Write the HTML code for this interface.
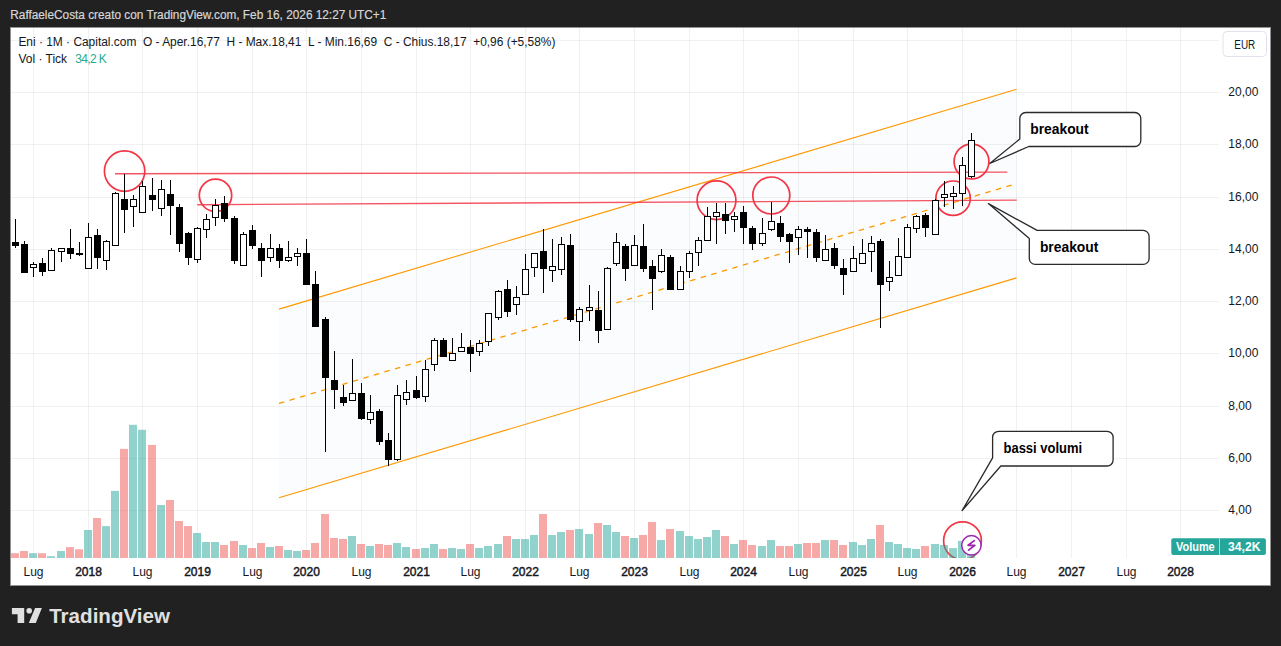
<!DOCTYPE html><html><head><meta charset="utf-8"><style>html,body{margin:0;padding:0;background:#212121;width:1281px;height:646px;overflow:hidden}svg{position:absolute;left:0;top:0;display:block}text{font-family:"Liberation Sans",sans-serif}</style></head><body>
<svg width="1281" height="646" viewBox="0 0 1281 646">
<rect x="0" y="0" width="1281" height="646" fill="#212121"/>
<text x="10.3" y="18.7" font-size="12" fill="#d6d6d6" stroke="#d6d6d6" stroke-width="0.2" textLength="376" lengthAdjust="spacingAndGlyphs">RaffaeleCosta creato con TradingView.com, Feb 16, 2026 12:27 UTC+1</text>
<rect x="10" y="27" width="1261" height="559" fill="#ffffff"/>
<rect x="10.5" y="27.5" width="1260" height="558" fill="none" stroke="#939393" stroke-width="1"/>
<defs><clipPath id="pane"><rect x="10" y="27" width="1209" height="531"/></clipPath></defs>
<polygon points="279,309.1 1016.5,89.3 1016.5,277.9 279,497.7" fill="#fafcfe"/>
<rect x="10" y="40" width="1209" height="1" fill="#000" fill-opacity="0.055"/><rect x="10" y="92" width="1209" height="1" fill="#000" fill-opacity="0.055"/><rect x="10" y="144" width="1209" height="1" fill="#000" fill-opacity="0.055"/><rect x="10" y="197" width="1209" height="1" fill="#000" fill-opacity="0.055"/><rect x="10" y="249" width="1209" height="1" fill="#000" fill-opacity="0.055"/><rect x="10" y="301" width="1209" height="1" fill="#000" fill-opacity="0.055"/><rect x="10" y="353" width="1209" height="1" fill="#000" fill-opacity="0.055"/><rect x="10" y="406" width="1209" height="1" fill="#000" fill-opacity="0.055"/><rect x="10" y="458" width="1209" height="1" fill="#000" fill-opacity="0.055"/><rect x="10" y="510" width="1209" height="1" fill="#000" fill-opacity="0.055"/><rect x="33" y="27" width="1" height="531" fill="#000" fill-opacity="0.055"/><rect x="88" y="27" width="1" height="531" fill="#000" fill-opacity="0.055"/><rect x="142" y="27" width="1" height="531" fill="#000" fill-opacity="0.055"/><rect x="197" y="27" width="1" height="531" fill="#000" fill-opacity="0.055"/><rect x="252" y="27" width="1" height="531" fill="#000" fill-opacity="0.055"/><rect x="306" y="27" width="1" height="531" fill="#000" fill-opacity="0.055"/><rect x="361" y="27" width="1" height="531" fill="#000" fill-opacity="0.055"/><rect x="416" y="27" width="1" height="531" fill="#000" fill-opacity="0.055"/><rect x="470" y="27" width="1" height="531" fill="#000" fill-opacity="0.055"/><rect x="525" y="27" width="1" height="531" fill="#000" fill-opacity="0.055"/><rect x="579" y="27" width="1" height="531" fill="#000" fill-opacity="0.055"/><rect x="634" y="27" width="1" height="531" fill="#000" fill-opacity="0.055"/><rect x="689" y="27" width="1" height="531" fill="#000" fill-opacity="0.055"/><rect x="743" y="27" width="1" height="531" fill="#000" fill-opacity="0.055"/><rect x="798" y="27" width="1" height="531" fill="#000" fill-opacity="0.055"/><rect x="853" y="27" width="1" height="531" fill="#000" fill-opacity="0.055"/><rect x="907" y="27" width="1" height="531" fill="#000" fill-opacity="0.055"/><rect x="962" y="27" width="1" height="531" fill="#000" fill-opacity="0.055"/><rect x="1016" y="27" width="1" height="531" fill="#000" fill-opacity="0.055"/><rect x="1071" y="27" width="1" height="531" fill="#000" fill-opacity="0.055"/><rect x="1126" y="27" width="1" height="531" fill="#000" fill-opacity="0.055"/><rect x="1180" y="27" width="1" height="531" fill="#000" fill-opacity="0.055"/>
<g clip-path="url(#pane)">
<line x1="279" y1="309.1" x2="1016.5" y2="89.3" stroke="#ff9800" stroke-width="1.1"/>
<line x1="279" y1="497.7" x2="1016.5" y2="277.9" stroke="#ff9800" stroke-width="1.1"/>
<line x1="279" y1="403.4" x2="1016.5" y2="183.6" stroke="#ff9800" stroke-width="1.3" stroke-dasharray="5.5 5.5"/>
<line x1="115" y1="173.75" x2="1007.4" y2="172.2" stroke="#f23645" stroke-opacity="0.85" stroke-width="1.3"/>
<line x1="197.25" y1="204.75" x2="1016.7" y2="200.1" stroke="#f23645" stroke-opacity="0.85" stroke-width="1.3"/>
<circle cx="124.6" cy="171.1" r="20.2" fill="none" stroke="#f23645" stroke-width="1.7"/>
<circle cx="215.5" cy="195.3" r="16.2" fill="none" stroke="#f23645" stroke-width="1.7"/>
<circle cx="716.5" cy="200.25" r="19.4" fill="none" stroke="#f23645" stroke-width="1.7"/>
<circle cx="771.3" cy="195.5" r="18.5" fill="none" stroke="#f23645" stroke-width="1.7"/>
<circle cx="971.5" cy="161.5" r="17.4" fill="none" stroke="#f23645" stroke-width="1.7"/>
<circle cx="953.1" cy="198.2" r="17.2" fill="none" stroke="#f23645" stroke-width="1.7"/>
<circle cx="962.5" cy="540.8" r="18.9" fill="none" stroke="#f23645" stroke-width="1.7"/>
<g><rect x="11" y="553.2" width="8" height="4.8" fill="#ef5350" fill-opacity="0.5"/><rect x="20" y="551.0" width="8" height="7.0" fill="#ef5350" fill-opacity="0.5"/><rect x="29" y="553.2" width="8" height="4.8" fill="#26a69a" fill-opacity="0.5"/><rect x="38" y="553.2" width="8" height="4.8" fill="#ef5350" fill-opacity="0.5"/><rect x="47" y="556.2" width="8" height="1.8" fill="#26a69a" fill-opacity="0.5"/><rect x="57" y="551.0" width="8" height="7.0" fill="#26a69a" fill-opacity="0.5"/><rect x="66" y="547.1" width="8" height="10.9" fill="#ef5350" fill-opacity="0.5"/><rect x="75" y="549.3" width="8" height="8.7" fill="#ef5350" fill-opacity="0.5"/><rect x="84" y="530.0" width="8" height="28.0" fill="#26a69a" fill-opacity="0.5"/><rect x="93" y="518.0" width="8" height="40.0" fill="#ef5350" fill-opacity="0.5"/><rect x="102" y="526.1" width="8" height="31.9" fill="#26a69a" fill-opacity="0.5"/><rect x="111" y="490.9" width="8" height="67.1" fill="#26a69a" fill-opacity="0.5"/><rect x="120" y="448.9" width="8" height="109.1" fill="#ef5350" fill-opacity="0.5"/><rect x="129" y="424.8" width="8" height="133.2" fill="#26a69a" fill-opacity="0.5"/><rect x="138" y="429.8" width="8" height="128.2" fill="#26a69a" fill-opacity="0.5"/><rect x="148" y="444.9" width="8" height="113.1" fill="#ef5350" fill-opacity="0.5"/><rect x="157" y="505.0" width="8" height="53.0" fill="#26a69a" fill-opacity="0.5"/><rect x="166" y="500.0" width="8" height="58.0" fill="#ef5350" fill-opacity="0.5"/><rect x="175" y="521.0" width="8" height="37.0" fill="#ef5350" fill-opacity="0.5"/><rect x="184" y="526.0" width="8" height="32.0" fill="#ef5350" fill-opacity="0.5"/><rect x="193" y="533.0" width="8" height="25.0" fill="#26a69a" fill-opacity="0.5"/><rect x="202" y="542.0" width="8" height="16.0" fill="#26a69a" fill-opacity="0.5"/><rect x="211" y="542.0" width="8" height="16.0" fill="#26a69a" fill-opacity="0.5"/><rect x="220" y="545.0" width="8" height="13.0" fill="#ef5350" fill-opacity="0.5"/><rect x="230" y="541.0" width="8" height="17.0" fill="#ef5350" fill-opacity="0.5"/><rect x="239" y="545.0" width="8" height="13.0" fill="#26a69a" fill-opacity="0.5"/><rect x="248" y="548.0" width="8" height="10.0" fill="#ef5350" fill-opacity="0.5"/><rect x="257" y="543.0" width="8" height="15.0" fill="#ef5350" fill-opacity="0.5"/><rect x="266" y="547.0" width="8" height="11.0" fill="#26a69a" fill-opacity="0.5"/><rect x="275" y="546.0" width="8" height="12.0" fill="#ef5350" fill-opacity="0.5"/><rect x="284" y="550.0" width="8" height="8.0" fill="#26a69a" fill-opacity="0.5"/><rect x="293" y="551.0" width="8" height="7.0" fill="#26a69a" fill-opacity="0.5"/><rect x="302" y="550.0" width="8" height="8.0" fill="#ef5350" fill-opacity="0.5"/><rect x="311" y="543.0" width="8" height="15.0" fill="#ef5350" fill-opacity="0.5"/><rect x="321" y="514.0" width="8" height="44.0" fill="#ef5350" fill-opacity="0.5"/><rect x="330" y="538.0" width="8" height="20.0" fill="#ef5350" fill-opacity="0.5"/><rect x="339" y="539.0" width="8" height="19.0" fill="#ef5350" fill-opacity="0.5"/><rect x="348" y="536.0" width="8" height="22.0" fill="#26a69a" fill-opacity="0.5"/><rect x="357" y="544.0" width="8" height="14.0" fill="#ef5350" fill-opacity="0.5"/><rect x="366" y="546.0" width="8" height="12.0" fill="#26a69a" fill-opacity="0.5"/><rect x="375" y="544.0" width="8" height="14.0" fill="#ef5350" fill-opacity="0.5"/><rect x="384" y="545.0" width="8" height="13.0" fill="#ef5350" fill-opacity="0.5"/><rect x="393" y="543.0" width="8" height="15.0" fill="#26a69a" fill-opacity="0.5"/><rect x="402" y="547.0" width="8" height="11.0" fill="#26a69a" fill-opacity="0.5"/><rect x="412" y="549.0" width="8" height="9.0" fill="#ef5350" fill-opacity="0.5"/><rect x="421" y="548.0" width="8" height="10.0" fill="#26a69a" fill-opacity="0.5"/><rect x="430" y="544.0" width="8" height="14.0" fill="#26a69a" fill-opacity="0.5"/><rect x="439" y="549.0" width="8" height="9.0" fill="#ef5350" fill-opacity="0.5"/><rect x="448" y="548.0" width="8" height="10.0" fill="#26a69a" fill-opacity="0.5"/><rect x="457" y="549.0" width="8" height="9.0" fill="#26a69a" fill-opacity="0.5"/><rect x="466" y="544.0" width="8" height="14.0" fill="#ef5350" fill-opacity="0.5"/><rect x="475" y="548.0" width="8" height="10.0" fill="#26a69a" fill-opacity="0.5"/><rect x="484" y="546.0" width="8" height="12.0" fill="#26a69a" fill-opacity="0.5"/><rect x="494" y="544.0" width="8" height="14.0" fill="#26a69a" fill-opacity="0.5"/><rect x="503" y="536.0" width="8" height="22.0" fill="#ef5350" fill-opacity="0.5"/><rect x="512" y="539.0" width="8" height="19.0" fill="#26a69a" fill-opacity="0.5"/><rect x="521" y="539.0" width="8" height="19.0" fill="#26a69a" fill-opacity="0.5"/><rect x="530" y="535.0" width="8" height="23.0" fill="#26a69a" fill-opacity="0.5"/><rect x="539" y="514.0" width="8" height="44.0" fill="#ef5350" fill-opacity="0.5"/><rect x="548" y="535.0" width="8" height="23.0" fill="#26a69a" fill-opacity="0.5"/><rect x="557" y="532.0" width="8" height="26.0" fill="#26a69a" fill-opacity="0.5"/><rect x="566" y="530.0" width="8" height="28.0" fill="#ef5350" fill-opacity="0.5"/><rect x="575" y="529.0" width="8" height="29.0" fill="#26a69a" fill-opacity="0.5"/><rect x="585" y="534.0" width="8" height="24.0" fill="#26a69a" fill-opacity="0.5"/><rect x="594" y="523.0" width="8" height="35.0" fill="#ef5350" fill-opacity="0.5"/><rect x="603" y="525.0" width="8" height="33.0" fill="#26a69a" fill-opacity="0.5"/><rect x="612" y="532.0" width="8" height="26.0" fill="#26a69a" fill-opacity="0.5"/><rect x="621" y="536.0" width="8" height="22.0" fill="#ef5350" fill-opacity="0.5"/><rect x="630" y="538.0" width="8" height="20.0" fill="#26a69a" fill-opacity="0.5"/><rect x="639" y="535.0" width="8" height="23.0" fill="#ef5350" fill-opacity="0.5"/><rect x="648" y="522.0" width="8" height="36.0" fill="#ef5350" fill-opacity="0.5"/><rect x="657" y="540.0" width="8" height="18.0" fill="#26a69a" fill-opacity="0.5"/><rect x="666" y="529.0" width="8" height="29.0" fill="#ef5350" fill-opacity="0.5"/><rect x="676" y="531.0" width="8" height="27.0" fill="#26a69a" fill-opacity="0.5"/><rect x="685" y="536.0" width="8" height="22.0" fill="#26a69a" fill-opacity="0.5"/><rect x="694" y="539.0" width="8" height="19.0" fill="#26a69a" fill-opacity="0.5"/><rect x="703" y="537.0" width="8" height="21.0" fill="#26a69a" fill-opacity="0.5"/><rect x="712" y="530.0" width="8" height="28.0" fill="#26a69a" fill-opacity="0.5"/><rect x="721" y="536.0" width="8" height="22.0" fill="#ef5350" fill-opacity="0.5"/><rect x="730" y="544.0" width="8" height="14.0" fill="#26a69a" fill-opacity="0.5"/><rect x="739" y="540.0" width="8" height="18.0" fill="#ef5350" fill-opacity="0.5"/><rect x="748" y="545.0" width="8" height="13.0" fill="#ef5350" fill-opacity="0.5"/><rect x="758" y="546.0" width="8" height="12.0" fill="#26a69a" fill-opacity="0.5"/><rect x="767" y="540.0" width="8" height="18.0" fill="#26a69a" fill-opacity="0.5"/><rect x="776" y="546.0" width="8" height="12.0" fill="#ef5350" fill-opacity="0.5"/><rect x="785" y="546.0" width="8" height="12.0" fill="#ef5350" fill-opacity="0.5"/><rect x="794" y="544.0" width="8" height="14.0" fill="#26a69a" fill-opacity="0.5"/><rect x="803" y="543.0" width="8" height="15.0" fill="#ef5350" fill-opacity="0.5"/><rect x="812" y="543.0" width="8" height="15.0" fill="#ef5350" fill-opacity="0.5"/><rect x="821" y="540.0" width="8" height="18.0" fill="#26a69a" fill-opacity="0.5"/><rect x="830" y="540.0" width="8" height="18.0" fill="#ef5350" fill-opacity="0.5"/><rect x="839" y="545.0" width="8" height="13.0" fill="#ef5350" fill-opacity="0.5"/><rect x="849" y="542.0" width="8" height="16.0" fill="#26a69a" fill-opacity="0.5"/><rect x="858" y="545.0" width="8" height="13.0" fill="#26a69a" fill-opacity="0.5"/><rect x="867" y="539.0" width="8" height="19.0" fill="#26a69a" fill-opacity="0.5"/><rect x="876" y="525.0" width="8" height="33.0" fill="#ef5350" fill-opacity="0.5"/><rect x="885" y="542.0" width="8" height="16.0" fill="#26a69a" fill-opacity="0.5"/><rect x="894" y="544.0" width="8" height="14.0" fill="#26a69a" fill-opacity="0.5"/><rect x="903" y="548.0" width="8" height="10.0" fill="#26a69a" fill-opacity="0.5"/><rect x="912" y="549.0" width="8" height="9.0" fill="#26a69a" fill-opacity="0.5"/><rect x="921" y="546.0" width="8" height="12.0" fill="#ef5350" fill-opacity="0.5"/><rect x="931" y="544.0" width="8" height="14.0" fill="#26a69a" fill-opacity="0.5"/><rect x="940" y="545.0" width="8" height="13.0" fill="#26a69a" fill-opacity="0.5"/><rect x="949" y="548.1" width="8" height="9.9" fill="#26a69a" fill-opacity="0.5"/><rect x="958" y="540.9" width="8" height="17.1" fill="#26a69a" fill-opacity="0.5"/><rect x="967" y="552.0" width="8" height="6.0" fill="#26a69a" fill-opacity="0.5"/></g>
<g><rect x="15" y="219" width="1" height="29" fill="#000"/><rect x="12" y="242" width="7" height="4" fill="#000"/><rect x="24" y="241" width="1" height="32" fill="#000"/><rect x="21" y="244" width="7" height="29" fill="#000"/><rect x="33" y="262" width="1" height="15" fill="#000"/><rect x="30" y="264" width="7" height="4" fill="#000"/><rect x="31" y="265" width="5" height="2" fill="#fff"/><rect x="42" y="258" width="1" height="18" fill="#000"/><rect x="39" y="263" width="7" height="9" fill="#000"/><rect x="51" y="248" width="1" height="23" fill="#000"/><rect x="48" y="250" width="7" height="21" fill="#000"/><rect x="49" y="251" width="5" height="19" fill="#fff"/><rect x="61" y="248" width="1" height="14" fill="#000"/><rect x="58" y="248" width="7" height="4" fill="#000"/><rect x="59" y="249" width="5" height="2" fill="#fff"/><rect x="70" y="229" width="1" height="30" fill="#000"/><rect x="67" y="248" width="7" height="6" fill="#000"/><rect x="79" y="242" width="1" height="14" fill="#000"/><rect x="76" y="253" width="7" height="2" fill="#000"/><rect x="88" y="223" width="1" height="46" fill="#000"/><rect x="85" y="237" width="7" height="32" fill="#000"/><rect x="86" y="238" width="5" height="30" fill="#fff"/><rect x="97" y="229" width="1" height="40" fill="#000"/><rect x="94" y="235" width="7" height="23" fill="#000"/><rect x="106" y="240" width="1" height="30" fill="#000"/><rect x="103" y="241" width="7" height="20" fill="#000"/><rect x="104" y="242" width="5" height="18" fill="#fff"/><rect x="115" y="192" width="1" height="54" fill="#000"/><rect x="112" y="193" width="7" height="53" fill="#000"/><rect x="113" y="194" width="5" height="51" fill="#fff"/><rect x="124" y="174" width="1" height="59" fill="#000"/><rect x="121" y="199" width="7" height="11" fill="#000"/><rect x="133" y="195" width="1" height="32" fill="#000"/><rect x="130" y="199" width="7" height="8" fill="#000"/><rect x="131" y="200" width="5" height="6" fill="#fff"/><rect x="142" y="181" width="1" height="32" fill="#000"/><rect x="139" y="186" width="7" height="27" fill="#000"/><rect x="140" y="187" width="5" height="25" fill="#fff"/><rect x="152" y="178" width="1" height="33" fill="#000"/><rect x="149" y="195" width="7" height="5" fill="#000"/><rect x="161" y="180" width="1" height="36" fill="#000"/><rect x="158" y="189" width="7" height="20" fill="#000"/><rect x="159" y="190" width="5" height="18" fill="#fff"/><rect x="170" y="180" width="1" height="55" fill="#000"/><rect x="167" y="194" width="7" height="12" fill="#000"/><rect x="179" y="204" width="1" height="48" fill="#000"/><rect x="176" y="207" width="7" height="37" fill="#000"/><rect x="188" y="232" width="1" height="33" fill="#000"/><rect x="185" y="233" width="7" height="25" fill="#000"/><rect x="197" y="227" width="1" height="36" fill="#000"/><rect x="194" y="228" width="7" height="32" fill="#000"/><rect x="195" y="229" width="5" height="30" fill="#fff"/><rect x="206" y="214" width="1" height="24" fill="#000"/><rect x="203" y="219" width="7" height="11" fill="#000"/><rect x="204" y="220" width="5" height="9" fill="#fff"/><rect x="215" y="199" width="1" height="27" fill="#000"/><rect x="212" y="205" width="7" height="13" fill="#000"/><rect x="213" y="206" width="5" height="11" fill="#fff"/><rect x="224" y="196" width="1" height="26" fill="#000"/><rect x="221" y="203" width="7" height="16" fill="#000"/><rect x="234" y="216" width="1" height="48" fill="#000"/><rect x="231" y="218" width="7" height="43" fill="#000"/><rect x="243" y="232" width="1" height="34" fill="#000"/><rect x="240" y="234" width="7" height="32" fill="#000"/><rect x="241" y="235" width="5" height="30" fill="#fff"/><rect x="252" y="225" width="1" height="24" fill="#000"/><rect x="249" y="230" width="7" height="16" fill="#000"/><rect x="261" y="243" width="1" height="34" fill="#000"/><rect x="258" y="248" width="7" height="13" fill="#000"/><rect x="270" y="234" width="1" height="28" fill="#000"/><rect x="267" y="248" width="7" height="10" fill="#000"/><rect x="268" y="249" width="5" height="8" fill="#fff"/><rect x="279" y="244" width="1" height="24" fill="#000"/><rect x="276" y="248" width="7" height="13" fill="#000"/><rect x="288" y="241" width="1" height="21" fill="#000"/><rect x="285" y="257" width="7" height="4" fill="#000"/><rect x="286" y="258" width="5" height="2" fill="#fff"/><rect x="297" y="248" width="1" height="18" fill="#000"/><rect x="294" y="253" width="7" height="4" fill="#000"/><rect x="295" y="254" width="5" height="2" fill="#fff"/><rect x="306" y="239" width="1" height="46" fill="#000"/><rect x="303" y="253" width="7" height="32" fill="#000"/><rect x="315" y="271" width="1" height="56" fill="#000"/><rect x="312" y="284" width="7" height="43" fill="#000"/><rect x="325" y="317" width="1" height="135" fill="#000"/><rect x="322" y="319" width="7" height="59" fill="#000"/><rect x="334" y="351" width="1" height="58" fill="#000"/><rect x="331" y="380" width="7" height="10" fill="#000"/><rect x="343" y="385" width="1" height="21" fill="#000"/><rect x="340" y="397" width="7" height="6" fill="#000"/><rect x="352" y="359" width="1" height="42" fill="#000"/><rect x="349" y="393" width="7" height="8" fill="#000"/><rect x="350" y="394" width="5" height="6" fill="#fff"/><rect x="361" y="383" width="1" height="37" fill="#000"/><rect x="358" y="393" width="7" height="26" fill="#000"/><rect x="370" y="395" width="1" height="29" fill="#000"/><rect x="367" y="412" width="7" height="8" fill="#000"/><rect x="368" y="413" width="5" height="6" fill="#fff"/><rect x="379" y="409" width="1" height="36" fill="#000"/><rect x="376" y="411" width="7" height="31" fill="#000"/><rect x="388" y="433" width="1" height="33" fill="#000"/><rect x="385" y="440" width="7" height="20" fill="#000"/><rect x="397" y="385" width="1" height="76" fill="#000"/><rect x="394" y="395" width="7" height="65" fill="#000"/><rect x="395" y="396" width="5" height="63" fill="#fff"/><rect x="406" y="380" width="1" height="25" fill="#000"/><rect x="403" y="392" width="7" height="8" fill="#000"/><rect x="404" y="393" width="5" height="6" fill="#fff"/><rect x="416" y="376" width="1" height="23" fill="#000"/><rect x="413" y="390" width="7" height="8" fill="#000"/><rect x="425" y="360" width="1" height="42" fill="#000"/><rect x="422" y="369" width="7" height="28" fill="#000"/><rect x="423" y="370" width="5" height="26" fill="#fff"/><rect x="434" y="338" width="1" height="33" fill="#000"/><rect x="431" y="340" width="7" height="25" fill="#000"/><rect x="432" y="341" width="5" height="23" fill="#fff"/><rect x="443" y="338" width="1" height="19" fill="#000"/><rect x="440" y="340" width="7" height="17" fill="#000"/><rect x="452" y="338" width="1" height="23" fill="#000"/><rect x="449" y="353" width="7" height="8" fill="#000"/><rect x="450" y="354" width="5" height="6" fill="#fff"/><rect x="461" y="333" width="1" height="19" fill="#000"/><rect x="458" y="347" width="7" height="5" fill="#000"/><rect x="459" y="348" width="5" height="3" fill="#fff"/><rect x="470" y="340" width="1" height="32" fill="#000"/><rect x="467" y="347" width="7" height="7" fill="#000"/><rect x="479" y="340" width="1" height="16" fill="#000"/><rect x="476" y="343" width="7" height="9" fill="#000"/><rect x="477" y="344" width="5" height="7" fill="#fff"/><rect x="488" y="313" width="1" height="33" fill="#000"/><rect x="485" y="313" width="7" height="29" fill="#000"/><rect x="486" y="314" width="5" height="27" fill="#fff"/><rect x="498" y="290" width="1" height="30" fill="#000"/><rect x="495" y="291" width="7" height="27" fill="#000"/><rect x="496" y="292" width="5" height="25" fill="#fff"/><rect x="507" y="280" width="1" height="37" fill="#000"/><rect x="504" y="289" width="7" height="23" fill="#000"/><rect x="516" y="286" width="1" height="29" fill="#000"/><rect x="513" y="297" width="7" height="8" fill="#000"/><rect x="514" y="298" width="5" height="6" fill="#fff"/><rect x="525" y="254" width="1" height="41" fill="#000"/><rect x="522" y="269" width="7" height="26" fill="#000"/><rect x="523" y="270" width="5" height="24" fill="#fff"/><rect x="534" y="253" width="1" height="24" fill="#000"/><rect x="531" y="253" width="7" height="15" fill="#000"/><rect x="532" y="254" width="5" height="13" fill="#fff"/><rect x="543" y="229" width="1" height="64" fill="#000"/><rect x="540" y="251" width="7" height="18" fill="#000"/><rect x="552" y="239" width="1" height="43" fill="#000"/><rect x="549" y="266" width="7" height="5" fill="#000"/><rect x="550" y="267" width="5" height="3" fill="#fff"/><rect x="561" y="237" width="1" height="38" fill="#000"/><rect x="558" y="244" width="7" height="26" fill="#000"/><rect x="559" y="245" width="5" height="24" fill="#fff"/><rect x="570" y="234" width="1" height="88" fill="#000"/><rect x="567" y="245" width="7" height="75" fill="#000"/><rect x="579" y="307" width="1" height="34" fill="#000"/><rect x="576" y="309" width="7" height="13" fill="#000"/><rect x="577" y="310" width="5" height="11" fill="#fff"/><rect x="589" y="285" width="1" height="36" fill="#000"/><rect x="586" y="307" width="7" height="4" fill="#000"/><rect x="587" y="308" width="5" height="2" fill="#fff"/><rect x="598" y="291" width="1" height="52" fill="#000"/><rect x="595" y="310" width="7" height="21" fill="#000"/><rect x="607" y="267" width="1" height="63" fill="#000"/><rect x="604" y="268" width="7" height="62" fill="#000"/><rect x="605" y="269" width="5" height="60" fill="#fff"/><rect x="616" y="233" width="1" height="33" fill="#000"/><rect x="613" y="242" width="7" height="22" fill="#000"/><rect x="614" y="243" width="5" height="20" fill="#fff"/><rect x="625" y="244" width="1" height="37" fill="#000"/><rect x="622" y="246" width="7" height="23" fill="#000"/><rect x="634" y="235" width="1" height="31" fill="#000"/><rect x="631" y="245" width="7" height="21" fill="#000"/><rect x="632" y="246" width="5" height="19" fill="#fff"/><rect x="643" y="224" width="1" height="48" fill="#000"/><rect x="640" y="246" width="7" height="23" fill="#000"/><rect x="652" y="260" width="1" height="50" fill="#000"/><rect x="649" y="266" width="7" height="13" fill="#000"/><rect x="661" y="249" width="1" height="24" fill="#000"/><rect x="658" y="255" width="7" height="17" fill="#000"/><rect x="659" y="256" width="5" height="15" fill="#fff"/><rect x="670" y="255" width="1" height="35" fill="#000"/><rect x="667" y="257" width="7" height="33" fill="#000"/><rect x="680" y="266" width="1" height="24" fill="#000"/><rect x="677" y="271" width="7" height="19" fill="#000"/><rect x="678" y="272" width="5" height="17" fill="#fff"/><rect x="689" y="251" width="1" height="27" fill="#000"/><rect x="686" y="253" width="7" height="19" fill="#000"/><rect x="687" y="254" width="5" height="17" fill="#fff"/><rect x="698" y="237" width="1" height="29" fill="#000"/><rect x="695" y="240" width="7" height="13" fill="#000"/><rect x="696" y="241" width="5" height="11" fill="#fff"/><rect x="707" y="207" width="1" height="34" fill="#000"/><rect x="704" y="216" width="7" height="25" fill="#000"/><rect x="705" y="217" width="5" height="23" fill="#fff"/><rect x="716" y="203" width="1" height="41" fill="#000"/><rect x="713" y="212" width="7" height="5" fill="#000"/><rect x="714" y="213" width="5" height="3" fill="#fff"/><rect x="725" y="203" width="1" height="31" fill="#000"/><rect x="722" y="214" width="7" height="7" fill="#000"/><rect x="734" y="212" width="1" height="20" fill="#000"/><rect x="731" y="216" width="7" height="4" fill="#000"/><rect x="732" y="217" width="5" height="2" fill="#fff"/><rect x="743" y="206" width="1" height="38" fill="#000"/><rect x="740" y="212" width="7" height="16" fill="#000"/><rect x="752" y="226" width="1" height="24" fill="#000"/><rect x="749" y="228" width="7" height="16" fill="#000"/><rect x="762" y="218" width="1" height="28" fill="#000"/><rect x="759" y="233" width="7" height="11" fill="#000"/><rect x="760" y="234" width="5" height="9" fill="#fff"/><rect x="771" y="202" width="1" height="29" fill="#000"/><rect x="768" y="221" width="7" height="9" fill="#000"/><rect x="769" y="222" width="5" height="7" fill="#fff"/><rect x="780" y="216" width="1" height="26" fill="#000"/><rect x="777" y="223" width="7" height="14" fill="#000"/><rect x="789" y="233" width="1" height="30" fill="#000"/><rect x="786" y="234" width="7" height="8" fill="#000"/><rect x="798" y="226" width="1" height="29" fill="#000"/><rect x="795" y="229" width="7" height="9" fill="#000"/><rect x="796" y="230" width="5" height="7" fill="#fff"/><rect x="807" y="227" width="1" height="31" fill="#000"/><rect x="804" y="229" width="7" height="3" fill="#000"/><rect x="816" y="229" width="1" height="33" fill="#000"/><rect x="813" y="232" width="7" height="26" fill="#000"/><rect x="825" y="235" width="1" height="26" fill="#000"/><rect x="822" y="249" width="7" height="12" fill="#000"/><rect x="823" y="250" width="5" height="10" fill="#fff"/><rect x="834" y="243" width="1" height="26" fill="#000"/><rect x="831" y="248" width="7" height="18" fill="#000"/><rect x="843" y="259" width="1" height="36" fill="#000"/><rect x="840" y="268" width="7" height="7" fill="#000"/><rect x="853" y="246" width="1" height="26" fill="#000"/><rect x="850" y="258" width="7" height="14" fill="#000"/><rect x="851" y="259" width="5" height="12" fill="#fff"/><rect x="862" y="239" width="1" height="25" fill="#000"/><rect x="859" y="253" width="7" height="11" fill="#000"/><rect x="860" y="254" width="5" height="9" fill="#fff"/><rect x="871" y="236" width="1" height="36" fill="#000"/><rect x="868" y="243" width="7" height="9" fill="#000"/><rect x="869" y="244" width="5" height="7" fill="#fff"/><rect x="880" y="239" width="1" height="89" fill="#000"/><rect x="877" y="241" width="7" height="44" fill="#000"/><rect x="889" y="261" width="1" height="30" fill="#000"/><rect x="886" y="277" width="7" height="5" fill="#000"/><rect x="887" y="278" width="5" height="3" fill="#fff"/><rect x="898" y="238" width="1" height="38" fill="#000"/><rect x="895" y="256" width="7" height="20" fill="#000"/><rect x="896" y="257" width="5" height="18" fill="#fff"/><rect x="907" y="224" width="1" height="34" fill="#000"/><rect x="904" y="227" width="7" height="31" fill="#000"/><rect x="905" y="228" width="5" height="29" fill="#fff"/><rect x="916" y="215" width="1" height="18" fill="#000"/><rect x="913" y="216" width="7" height="13" fill="#000"/><rect x="914" y="217" width="5" height="11" fill="#fff"/><rect x="925" y="213" width="1" height="24" fill="#000"/><rect x="922" y="215" width="7" height="13" fill="#000"/><rect x="935" y="199" width="1" height="36" fill="#000"/><rect x="932" y="200" width="7" height="35" fill="#000"/><rect x="933" y="201" width="5" height="33" fill="#fff"/><rect x="944" y="181" width="1" height="26" fill="#000"/><rect x="941" y="194" width="7" height="4" fill="#000"/><rect x="942" y="195" width="5" height="2" fill="#fff"/><rect x="953" y="186" width="1" height="23" fill="#000"/><rect x="950" y="193" width="7" height="4" fill="#000"/><rect x="951" y="194" width="5" height="2" fill="#fff"/><rect x="962" y="157" width="1" height="49" fill="#000"/><rect x="959" y="165" width="7" height="29" fill="#000"/><rect x="960" y="166" width="5" height="27" fill="#fff"/><rect x="971" y="133" width="1" height="45" fill="#000"/><rect x="968" y="140" width="7" height="37" fill="#000"/><rect x="969" y="141" width="5" height="35" fill="#fff"/></g>
<path d="M1025.8,112.5 L1134.8,112.5 A6,6 0 0 1 1140.8,118.5 L1140.8,140.5 A6,6 0 0 1 1134.8,146.5 L1028.8,146.5 L989.75,163.5 L1019.8,139 L1019.8,118.5 A6,6 0 0 1 1025.8,112.5 Z" fill="#fff" stroke="#2a2a2a" stroke-width="1.3" stroke-linejoin="round"/>
<text x="1030.2" y="134.2" font-size="14" font-weight="bold" fill="#000" textLength="58.5" lengthAdjust="spacingAndGlyphs">breakout</text>
<path d="M1037.1,230.4 L988.4,203.6 L1029.3,238.5 L1029.3,258.4 A6,6 0 0 0 1035.3,264.4 L1143.1,264.4 A6,6 0 0 0 1149.1,258.4 L1149.1,236.4 A6,6 0 0 0 1143.1,230.4 Z" fill="#fff" stroke="#2a2a2a" stroke-width="1.3" stroke-linejoin="round"/>
<text x="1039.9" y="251.8" font-size="14" font-weight="bold" fill="#000" textLength="58.5" lengthAdjust="spacingAndGlyphs">breakout</text>
<path d="M998.6,431.3 L1107.1,431.3 A6,6 0 0 1 1113.1,437.3 L1113.1,460 A6,6 0 0 1 1107.1,466 L1000.8,466 L962.1,510.6 L992.6,457.9 L992.6,437.3 A6,6 0 0 1 998.6,431.3 Z" fill="#fff" stroke="#2a2a2a" stroke-width="1.3" stroke-linejoin="round"/>
<text x="1003.5" y="453.3" font-size="14" font-weight="bold" fill="#000" textLength="78.6" lengthAdjust="spacingAndGlyphs">bassi volumi</text>
<circle cx="971.4" cy="545.3" r="9.7" fill="#fff" stroke="#9c27b0" stroke-width="1.5"/>
<path d="M974.3,540.6 L968.1,545.3 L974.8,545.3 L968.6,550.1" fill="none" stroke="#9c27b0" stroke-width="1.8" stroke-linecap="round" stroke-linejoin="round"/>
</g>
<text x="1228.3" y="95.6" font-size="12" fill="#131722">20,00</text>
<text x="1228.3" y="147.6" font-size="12" fill="#131722">18,00</text>
<text x="1228.3" y="200.6" font-size="12" fill="#131722">16,00</text>
<text x="1228.3" y="252.6" font-size="12" fill="#131722">14,00</text>
<text x="1228.3" y="304.6" font-size="12" fill="#131722">12,00</text>
<text x="1228.3" y="356.6" font-size="12" fill="#131722">10,00</text>
<text x="1228.3" y="409.6" font-size="12" fill="#131722">8,00</text>
<text x="1228.3" y="461.6" font-size="12" fill="#131722">6,00</text>
<text x="1228.3" y="513.6" font-size="12" fill="#131722">4,00</text>
<rect x="1223" y="31.5" width="43.5" height="25" rx="4" fill="#fff" stroke="#e0e3eb" stroke-width="1"/>
<text x="1244.8" y="49.3" font-size="12" fill="#131722" text-anchor="middle" textLength="21" lengthAdjust="spacingAndGlyphs">EUR</text>
<text x="33.5" y="576" font-size="12" fill="#131722" text-anchor="middle">Lug</text><text x="88.5" y="576" font-size="12" fill="#131722" stroke="#131722" stroke-width="0.45" text-anchor="middle">2018</text><text x="142.5" y="576" font-size="12" fill="#131722" text-anchor="middle">Lug</text><text x="197.5" y="576" font-size="12" fill="#131722" stroke="#131722" stroke-width="0.45" text-anchor="middle">2019</text><text x="252.5" y="576" font-size="12" fill="#131722" text-anchor="middle">Lug</text><text x="306.5" y="576" font-size="12" fill="#131722" stroke="#131722" stroke-width="0.45" text-anchor="middle">2020</text><text x="361.5" y="576" font-size="12" fill="#131722" text-anchor="middle">Lug</text><text x="416.5" y="576" font-size="12" fill="#131722" stroke="#131722" stroke-width="0.45" text-anchor="middle">2021</text><text x="470.5" y="576" font-size="12" fill="#131722" text-anchor="middle">Lug</text><text x="525.5" y="576" font-size="12" fill="#131722" stroke="#131722" stroke-width="0.45" text-anchor="middle">2022</text><text x="579.5" y="576" font-size="12" fill="#131722" text-anchor="middle">Lug</text><text x="634.5" y="576" font-size="12" fill="#131722" stroke="#131722" stroke-width="0.45" text-anchor="middle">2023</text><text x="689.5" y="576" font-size="12" fill="#131722" text-anchor="middle">Lug</text><text x="743.5" y="576" font-size="12" fill="#131722" stroke="#131722" stroke-width="0.45" text-anchor="middle">2024</text><text x="798.5" y="576" font-size="12" fill="#131722" text-anchor="middle">Lug</text><text x="853.5" y="576" font-size="12" fill="#131722" stroke="#131722" stroke-width="0.45" text-anchor="middle">2025</text><text x="907.5" y="576" font-size="12" fill="#131722" text-anchor="middle">Lug</text><text x="962.5" y="576" font-size="12" fill="#131722" stroke="#131722" stroke-width="0.45" text-anchor="middle">2026</text><text x="1016.5" y="576" font-size="12" fill="#131722" text-anchor="middle">Lug</text><text x="1071.5" y="576" font-size="12" fill="#131722" stroke="#131722" stroke-width="0.45" text-anchor="middle">2027</text><text x="1126.5" y="576" font-size="12" fill="#131722" text-anchor="middle">Lug</text><text x="1180.5" y="576" font-size="12" fill="#131722" stroke="#131722" stroke-width="0.45" text-anchor="middle">2028</text>
<rect x="1171.3" y="538.3" width="94.6" height="16.7" rx="2" fill="#26a69a"/>
<rect x="1219" y="538.3" width="1" height="16.7" fill="#fff" fill-opacity="0.6"/>
<text x="1176" y="550.6" font-size="12" font-weight="bold" fill="#fff" textLength="38.7" lengthAdjust="spacingAndGlyphs">Volume</text>
<text x="1228.1" y="550.6" font-size="12" font-weight="bold" fill="#fff" textLength="32.4" lengthAdjust="spacingAndGlyphs">34,2K</text>
<text x="18.4" y="45.8" font-size="12" fill="#131722" textLength="537" lengthAdjust="spacingAndGlyphs" xml:space="preserve">Eni · 1M · Capital.com  O - Aper.16,77  H - Max.18,41  L - Min.16,69  C - Chius.18,17  +0,96 (+5,58%)</text>
<text x="18.4" y="62.5" font-size="12" fill="#131722" xml:space="preserve">Vol · Tick</text>
<text x="75.2" y="62.5" font-size="12" fill="#22ab94" textLength="31.5" lengthAdjust="spacing">34,2 K</text>
<g fill="#e0e0e0"><path d="M11.9,608 H24.2 V623 H17.6 V614.2 H11.9 Z"/><circle cx="29.2" cy="610.8" r="2.8"/><path d="M35.1,608 H41.9 L35.8,623 H28.8 Z"/></g>
<text x="49.2" y="623" font-size="20.5" font-weight="bold" fill="#e0e0e0" textLength="120.8" lengthAdjust="spacingAndGlyphs">TradingView</text>
</svg></body></html>
